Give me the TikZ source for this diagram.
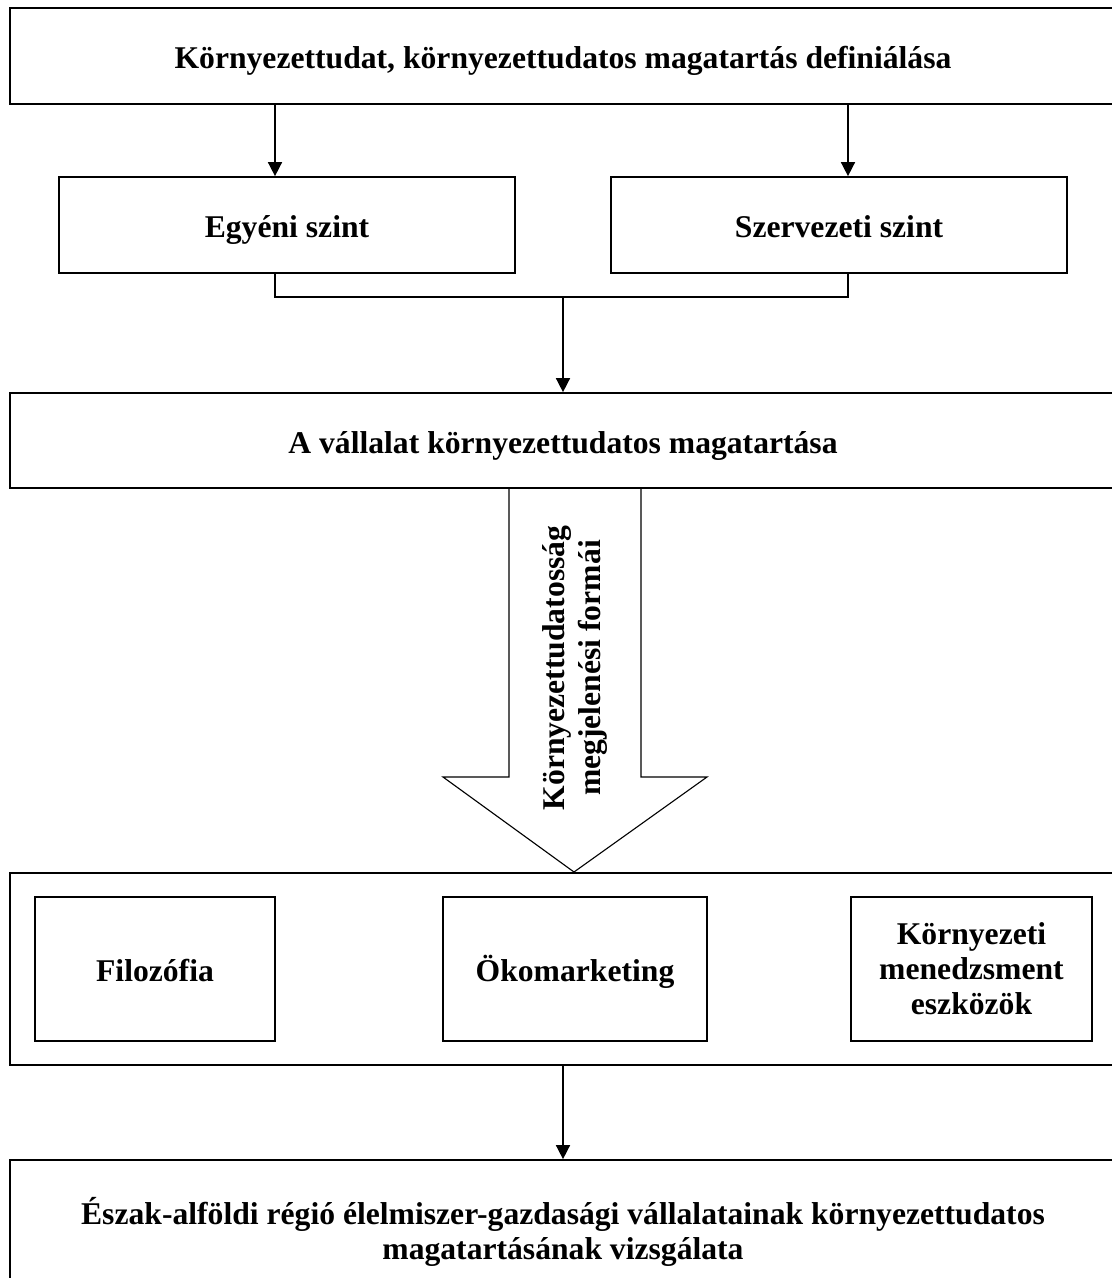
\documentclass[tikz,border=0pt]{standalone}
\usepackage{fontspec}
\setmainfont{Liberation Serif}
\usetikzlibrary{arrows.meta}

\begin{document}
\begin{tikzpicture}[thick, x=0.025cm, y=-0.025cm]
	% Stili per i riquadri e le frecce
	\tikzset{doboz/.style={rectangle, draw, line width=1.2pt, align=center, inner sep=0pt, font=\fontsize{22.5}{25}\selectfont\bfseries},
		egysor/.style={text height=21pt, text depth=3.2pt},
		nyil/.style={line width=1.1pt, -{Triangle[width=10pt,length=10pt]}}}
	
	\useasboundingbox (0,0) rectangle (1112,1278);
	\clip (0,0) rectangle (1112,1278);
	
	% Riquadri superiori
	\node[doboz, egysor, minimum width=27.65cm, minimum height=2.4cm] (def) at (563,56) {Környezettudat, környezettudatos magatartás definiálása};
	\node[doboz, egysor, minimum width=11.4cm, minimum height=2.4cm] (egyeni) at (287,225) {Egyéni szint};
	\node[doboz, egysor, minimum width=11.4cm, minimum height=2.4cm] (szerv) at (839,225) {Szervezeti szint};
	\node[doboz, egysor, minimum width=27.65cm, minimum height=2.375cm] (vall) at (563,440.5) {A vállalat környezettudatos magatartása};
	
	% Punti di aggancio
	\coordinate (bal) at (275,0);
	\coordinate (jobb) at (848,0);
	\coordinate (kozep) at (563,297);
	
	% Frecce e parentesi
	\draw[nyil] (def.south -| bal) -- (egyeni.north -| bal);
	\draw[nyil] (def.south -| jobb) -- (szerv.north -| jobb);
	\draw[line width=1.2pt] (egyeni.south -| bal) |- (kozep) -| (szerv.south -| jobb);
	\draw[nyil] (kozep) -- (vall.north);
	
	% Freccia grande
	\draw[line width=0.8pt] (509,488) -- (509,777) -- (443,777) -- (574,872) -- (707,777) -- (641,777) -- (641,488);
	\node[rotate=90, align=center, font=\fontsize{22.5}{26}\selectfont\bfseries] (forma) at (575,668) {Környezettudatosság\\megjelenési formái};
	
	% Riquadri inferiori
	\node[doboz, minimum width=27.65cm, minimum height=4.8cm] (formak) at (563,969) {};
	\node[doboz, egysor, minimum width=6cm, minimum height=3.6cm] (filo) at (155,969) {Filozófia};
	\node[doboz, egysor, minimum width=6.6cm, minimum height=3.6cm] (oko) at (575,969) {Ökomarketing};
	\node[doboz, minimum width=6.025cm, minimum height=3.6cm] (kmen) at (971.5,969) {Környezeti\\menedzsment\\eszközök};
	\node[doboz, minimum width=27.65cm, minimum height=3.6cm] (vizsg) at (563,1232) {Észak-alföldi régió élelmiszer-gazdasági vállalatainak környezettudatos\\magatartásának vizsgálata};
	
	\draw[nyil] (formak.south) -- (vizsg.north);
\end{tikzpicture}
\end{document}
